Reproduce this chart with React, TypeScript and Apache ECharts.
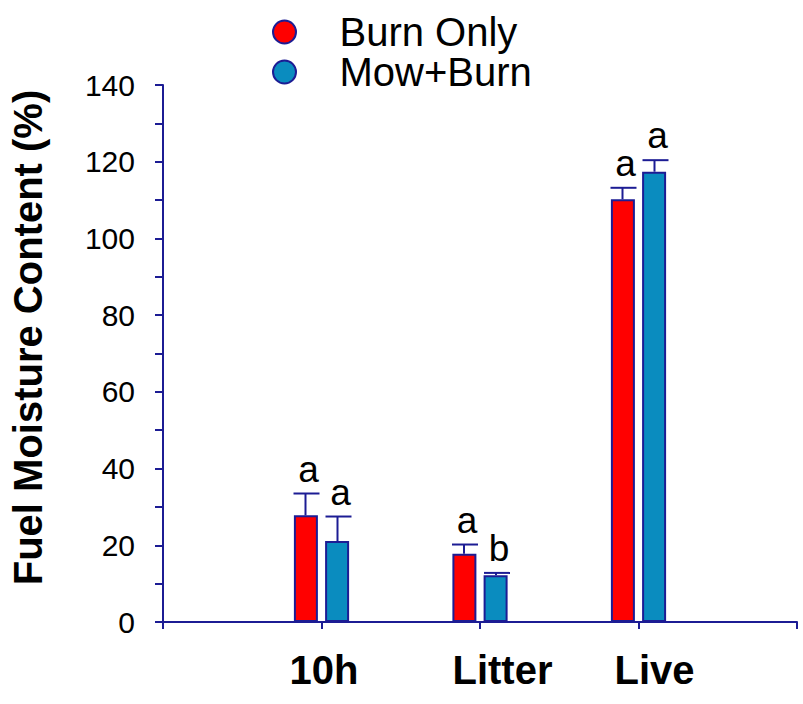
import React, { useEffect, useRef } from "react";
import * as echarts from "echarts";

const CATEGORIES = ["10h", "Litter", "Live"];
const SERIES_NAMES = ["Burn Only", "Mow+Burn"];
const BURN_ONLY = [27.8, 17.8, 110.2];
const MOW_BURN = [21.1, 12.2, 117.4];
const BURN_ONLY_ERR = [5.7, 2.4, 3.0];
const MOW_BURN_ERR = [6.4, 0.6, 3.0];
const BURN_ONLY_LETTERS = ["a", "a", "a"];
const MOW_BURN_LETTERS = ["a", "b", "a"];
const Y_MIN = 0;
const Y_MAX = 140;
const Y_STEP = 20;

const NAVY = "#1c1c94";
const RED = "#ff0000";
const BLUE = "#0a8cbf";
const FONT = "'Liberation Sans', Arial, sans-serif";
const LABEL_PAD: Record<string, number> = { "10h": 5, Litter: 45, Live: 32 };
const BAR_OFFSET = 16;

export default function App() {
  const ref = useRef<HTMLDivElement>(null);
  useEffect(() => {
    if (!ref.current) return;
    const chart = echarts.init(ref.current, null, { renderer: "svg" });
    const axisCats = ["", ...CATEGORIES, ""];
    const pad = (arr: number[]) => [null, ...arr, null];

    const makeErr = (vals: number[], errs: number[], letters: string[], sIdx: number) => ({
      type: "custom",
      name: SERIES_NAMES[sIdx] + " error",
      z: 5,
      data: vals.map((v, i) => [i + 1, v, errs[i]]),
      encode: { x: 0, y: 1 },
      renderItem: (params: any, api: any) => {
        const cat = api.value(0);
        const v = api.value(1);
        const e = api.value(2);
        const base = api.coord([cat, v]);
        const top = api.coord([cat, v + e]);
        const x = base[0] + (sIdx === 0 ? -BAR_OFFSET : BAR_OFFSET);
        return {
          type: "group",
          children: [
            {
              type: "line",
              shape: { x1: x, y1: base[1], x2: x, y2: top[1] },
              style: { stroke: NAVY, lineWidth: 2 },
            },
            {
              type: "line",
              shape: { x1: x - 12, y1: top[1], x2: x + 14, y2: top[1] },
              style: { stroke: NAVY, lineWidth: 2 },
            },
            {
              type: "text",
              x: x + 3,
              y: top[1] - 6,
              style: {
                text: letters[params.dataIndex],
                fontSize: 37,
                fontFamily: FONT,
                fill: "#000",
                align: "center",
                verticalAlign: "bottom",
              },
            },
          ],
        };
      },
    });

    const option: any = {
      animation: false,
      backgroundColor: "#ffffff",
      legend: {
        data: SERIES_NAMES,
        orient: "vertical",
        left: 267,
        top: 7,
        itemWidth: 26,
        itemHeight: 23,
        itemGap: 0,
        icon: "path://M0,50A50,50,0,1,1,100,50A50,50,0,1,1,0,50Z",
        textStyle: {
          fontSize: 40,
          fontFamily: FONT,
          color: "#000",
          lineHeight: 37,
          padding: [0, 0, 0, 37],
        },
      },
      grid: { left: 160, right: 6, top: 85, bottom: 82, containLabel: false },
      xAxis: {
        type: "category",
        data: axisCats,
        boundaryGap: false,
        axisLine: { lineStyle: { color: NAVY, width: 2 } },
        axisTick: { show: true, length: 7, lineStyle: { color: NAVY, width: 2 } },
        axisLabel: {
          margin: 28,
          interval: 0,
          formatter: (v: string) => (v ? `{${v === "10h" ? "h" : v}|${v}}` : ""),
          rich: Object.fromEntries(
            CATEGORIES.map((c) => [
              c === "10h" ? "h" : c,
              {
                fontSize: 40,
                fontWeight: "bold",
                fontFamily: FONT,
                color: "#000",
                padding: [0, 0, 0, LABEL_PAD[c]],
              },
            ])
          ),
        },
        splitLine: { show: false },
      },
      yAxis: {
        type: "value",
        min: Y_MIN,
        max: Y_MAX,
        interval: Y_STEP,
        name: "Fuel Moisture Content (%)",
        nameLocation: "middle",
        nameGap: 115,
        nameTextStyle: {
          fontSize: 40,
          fontWeight: "bold",
          fontFamily: FONT,
          color: "#000",
          padding: [0, 0, 0, 32],
        },
        axisLine: { show: true, lineStyle: { color: NAVY, width: 2 } },
        axisTick: { show: true, length: 8, lineStyle: { color: NAVY, width: 2 } },
        minorTick: { show: true, splitNumber: 2, length: 8, lineStyle: { color: NAVY, width: 2 } },
        axisLabel: { margin: 28, fontSize: 30, fontFamily: FONT, color: "#000" },
        splitLine: { show: false },
      },
      series: [
        {
          type: "bar",
          name: SERIES_NAMES[0],
          data: pad(BURN_ONLY),
          barWidth: 24,
          barGap: "30%",
          itemStyle: { color: RED, borderColor: NAVY, borderWidth: 2 },
        },
        {
          type: "bar",
          name: SERIES_NAMES[1],
          data: pad(MOW_BURN),
          barWidth: 24,
          barGap: "30%",
          itemStyle: { color: BLUE, borderColor: NAVY, borderWidth: 2 },
        },
        makeErr(BURN_ONLY, BURN_ONLY_ERR, BURN_ONLY_LETTERS, 0),
        makeErr(MOW_BURN, MOW_BURN_ERR, MOW_BURN_LETTERS, 1),
      ],
    };
    chart.setOption(option);
    return () => chart.dispose();
  }, []);
  return (
    <div
      ref={ref}
      style={{ position: "fixed", left: 0, top: 0, width: 803, height: 704, background: "#fff" }}
    />
  );
}
